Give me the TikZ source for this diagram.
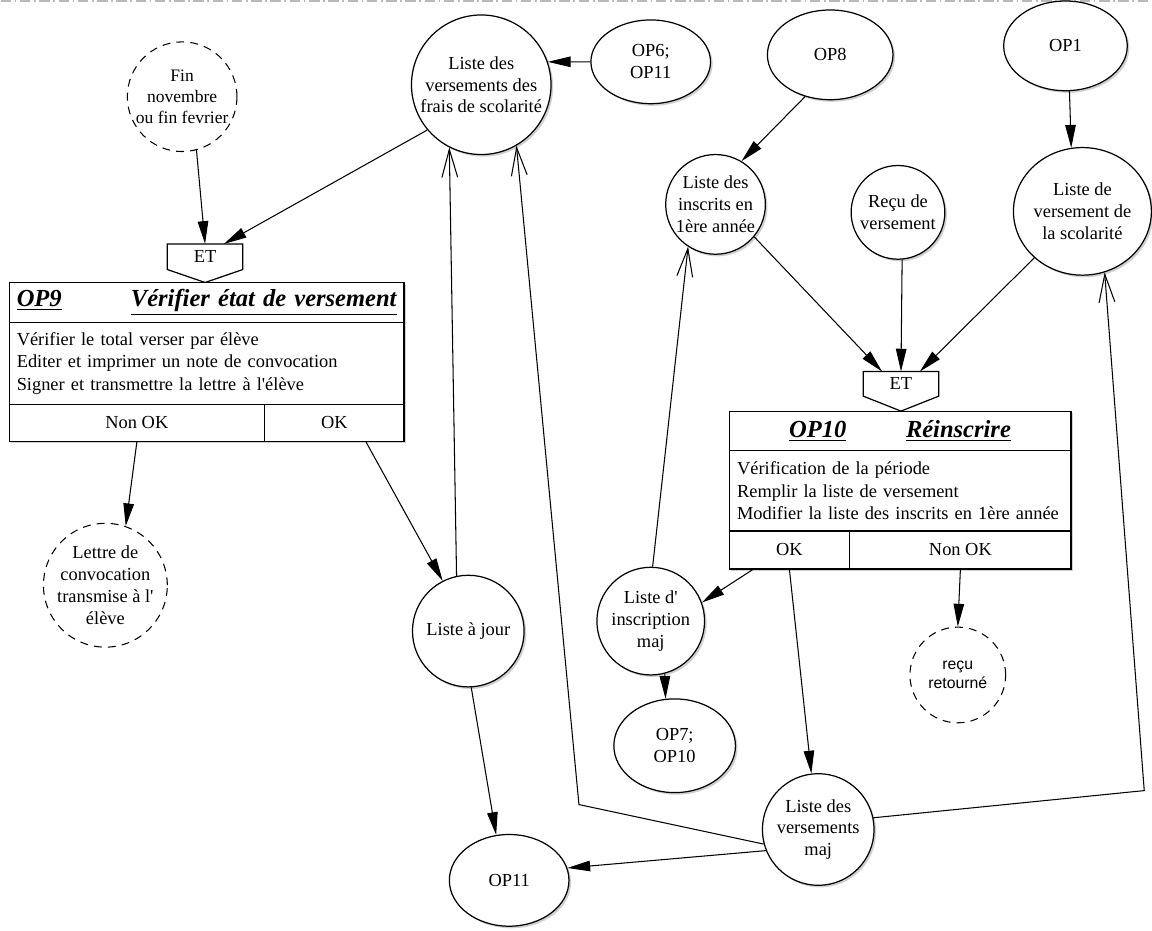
\documentclass[tikz,border=0pt]{standalone}
\usepackage{fontspec}
\setmainfont{Liberation Serif}
\newfontfamily\recufont{Liberation Sans}
\usetikzlibrary{shapes.geometric,arrows.meta,calc,shadows}
\newcommand\nodefont{\fontsize{10.5}{12.5}\selectfont}
\newcommand\titlefont{\fontsize{14}{16}\selectfont\bfseries\itshape}
\tikzset{
  softshadow/.style={drop shadow={shadow xshift=1.2pt, shadow yshift=-1.2pt,
    fill=black!30, opacity=0.6}},
  docnode/.style={
    circle, draw, line width=0.7pt, fill=white, inner sep=0pt,
    align=center, font=\nodefont, softshadow
  },
  evnode/.style={
    circle, draw, line width=0.6pt, dash pattern=on 4.5pt off 3.5pt,
    inner sep=0pt, align=center, font=\nodefont
  },
  opnode/.style={
    ellipse, draw, line width=0.7pt, fill=white, inner sep=0pt,
    align=center, font=\nodefont, softshadow
  },
  gatebox/.style={
    rectangle, minimum width=1.5cm, minimum height=0.5cm,
    inner sep=0pt, font=\nodefont
  },
  gateline/.style={draw, line width=0.7pt},
  cell/.style={
    rectangle, draw, line width=0.7pt, fill=white, inner sep=0pt,
    anchor=north west, align=center, font=\nodefont, softshadow
  },
  flow/.style={-{Triangle[length=13pt,width=6pt]}, line width=0.6pt},
  back/.style={-{Straight Barb[length=16pt,width=9pt]}, line width=0.6pt},
}

\begin{document}
\begin{tikzpicture}[x=0.02cm, y=-0.02cm]
  \fill[white] (0,0) rectangle (1152,933);
  \draw[gray!55, line width=0.8pt, dash pattern=on 6pt off 2pt on 1pt off 2pt]
    (0,1) -- (1152,1);

  % top row: events, lists and operations
  \node (fin) [evnode, minimum size=2.2cm, font=\fontsize{10}{12}\selectfont]
    at (182,97) {Fin\\novembre\\ou fin fevrier};
  \node (lvf) [docnode, minimum size=2.8cm] at (482,85)
    {Liste des\\versements des\\frais de scolarité};
  \node (op6) [opnode, minimum width=2.4cm, minimum height=1.68cm] at (652,62) {OP6;\\OP11};
  \node (op8) [opnode, minimum width=2.52cm, minimum height=1.8cm] at (832,55) {OP8};
  \node (op1) [opnode, minimum width=2.48cm, minimum height=1.8cm] at (1068,46) {OP1};
  \node (lins) [docnode, minimum size=2cm] at (717,205) {Liste des\\inscrits en\\1ère année};
  \node (recu) [docnode, minimum size=1.88cm] at (900,213) {Reçu de\\versement};
  \node (lvs) [opnode, minimum width=2.36cm, minimum height=2.56cm] at (1085,212)
    {Liste de\\versement de\\la scolarité};

  % OP9
  \node (et9) [gatebox] at (205,257.5) {ET};
  \draw[gateline] (et9.north west) -- (et9.north east) -- (et9.south east)
    -- ($(et9.south)+(0,13)$) -- (et9.south west) -- cycle;
  \node (t9) [cell, minimum width=7.92cm, minimum height=0.8cm, text width=7.62cm,
    font=\titlefont] at (8,283)
    {\underline{OP9}\hfill\underline{Vérifier état de versement}};
  \node (d9) [cell, minimum width=7.92cm, minimum height=1.64cm, text width=7.62cm,
    align=left, font=\fontsize{10.5}{13}\selectfont] at (8,323)
    {Vérifier le total verser par élève\\Editer et imprimer un note de convocation\\
     Signer et transmettre la lettre à l\textquotesingle élève};
  \node (non9) [cell, minimum width=5.12cm, minimum height=0.74cm] at (8,405) {Non OK};
  \node (ok9) [cell, minimum width=2.8cm, minimum height=0.74cm] at (264,405) {OK};

  % OP10
  \node (et10) [gatebox, minimum height=0.48cm] at (903,385) {ET};
  \draw[gateline] (et10.north west) -- (et10.north east) -- (et10.south east)
    -- ($(et10.south)+(0,15)$) -- (et10.south west) -- cycle;
  \node (t10) [cell, minimum width=6.86cm, minimum height=0.78cm, font=\titlefont]
    at (730,412) {\underline{OP10}\hspace{34pt}\underline{Réinscrire}};
  \node (d10) [cell, minimum width=6.86cm, minimum height=1.62cm, text width=6.54cm,
    align=left, font=\fontsize{10.5}{13}\selectfont] at (730,451)
    {Vérification de la période\\Remplir la liste de versement\\
     Modifier la liste des inscrits en 1ère année};
  \node (ok10) [cell, minimum width=2.42cm, minimum height=0.76cm] at (730,532) {OK};
  \node (non10) [cell, minimum width=4.44cm, minimum height=0.76cm] at (851,532) {Non OK};

  % results
  \node (lettre) [evnode, minimum size=2.48cm] at (105,587)
    {Lettre de\\convocation\\transmise à l\textquotesingle\\élève};
  \node (ljour) [docnode, minimum size=2.24cm] at (469,633) {Liste à jour};
  \node (linsc) [docnode, minimum size=2.16cm] at (652,623)
    {Liste d\textquotesingle\\inscription\\maj};
  \node (op710) [opnode, minimum width=2.44cm, minimum height=1.88cm] at (676,748) {OP7;\\OP10};
  \node (recuret) [evnode, minimum size=1.92cm, font=\recufont\fontsize{9}{11}\selectfont]
    at (960,677) {reçu\\retourné};
  \node (lvm) [docnode, minimum size=2.24cm] at (820,832) {Liste des\\versements\\maj};
  \node (op11) [opnode, minimum width=2.4cm, minimum height=1.84cm] at (510,883) {OP11};
  \coordinate (c1) at (580,807);
  \coordinate (c2) at (1147,793);

  % connectors
  \draw[flow] (fin.-75) -- (et9.north);
  \draw[flow] (lvf.220) -- ($(et9.north)!0.5!(et9.north east)$);
  \draw[flow] (op6.west) -- (lvf.19);
  \draw[flow] (op8.239) -- (lins.59);
  \draw[flow] (op1.-85) -- (lvs.100);
  \draw[flow] (recu.-85) -- (et10.north);
  \draw[flow] (lins.-40) -- ($(et10.north west)!0.5!(et10.north)$);
  \draw[flow] (lvs.224) -- ($(et10.north)!0.5!(et10.north east)$);
  \draw[flow] (non9.south) -- (lettre.71);
  \draw[flow] ($(ok9.south)!0.45!(ok9.south east)$) -- (ljour.117);
  \draw[back] (ljour.102) -- (lvf.243);
  \draw[flow] (ljour.-87) -- (op11.106);
  \draw[flow] ($(ok10.south west)!0.2!(ok10.south east)$) -- (linsc.20);
  \draw[back] (linsc.88) -- (lins.237);
  \draw[flow] (linsc.-75) -- (op710.101);
  \draw[flow] (ok10.south) -- (lvm.97);
  \draw[flow] (non10.south) -- (recuret.north);
  \draw[flow] (lvm.202) -- (op11.12);
  \draw[back] (lvm.195) -- (c1) -- (lvf.-60);
  \draw[back] (lvm.12) -- (c2) -- (lvs.-70);
\end{tikzpicture}
\end{document}
